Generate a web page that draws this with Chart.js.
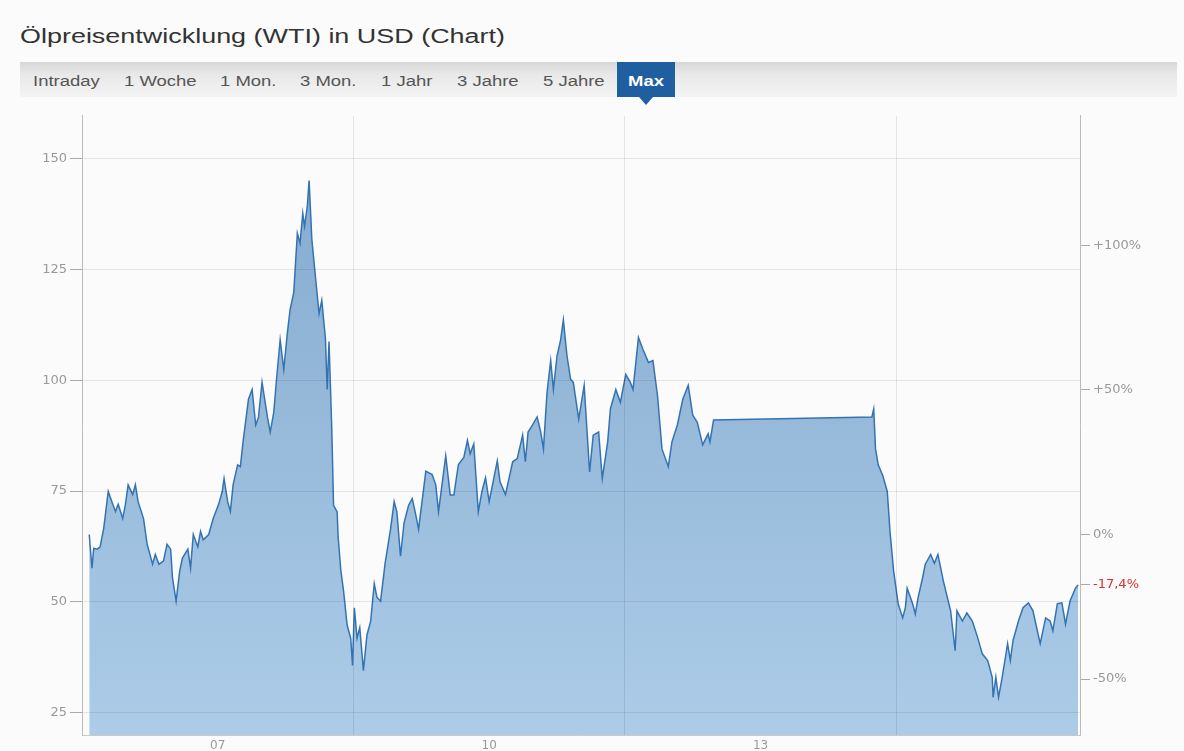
<!DOCTYPE html>
<html lang="de">
<head>
<meta charset="utf-8">
<title>Ölpreisentwicklung (WTI) in USD</title>
<script src="https://cdn.jsdelivr.net/npm/chart.js@4.4.1/dist/chart.umd.min.js"></script>
<style>
  html, body { margin: 0; padding: 0; background: #fbfbfb; }
  body { width: 1184px; height: 751px; position: relative; overflow: hidden; font-family: "Liberation Sans", Arial, sans-serif; }
  .title { position: absolute; left: 20px; top: 26px; margin: 0; font-size: 20px; line-height: 20px; font-weight: normal; color: #333; white-space: nowrap; transform: scaleX(1.347); transform-origin: left top; }
  .tabs { position: absolute; left: 20px; top: 62px; width: 1157px; height: 35px; background: linear-gradient(to bottom, #d7d7d7 0%, #e8e8e8 35%, #f4f4f4 100%); }
  .tab { position: absolute; top: 12px; font-size: 14px; line-height: 14px; color: #555; white-space: nowrap; transform: scaleX(1.32); transform-origin: left top; }
  .active { position: absolute; left: 597px; top: 0; width: 58px; height: 35px; background: #1f5fa0; }
  .active span { position: absolute; left: 11px; top: 12px; font-size: 14px; line-height: 14px; font-weight: bold; color: #fff; transform: scaleX(1.32); transform-origin: left top; }
  .active::after { content: ""; position: absolute; left: 22px; top: 35px; border-left: 7px solid transparent; border-right: 7px solid transparent; border-top: 8px solid #1f5fa0; }
  #wrap { position: absolute; left: 0; top: 105px; width: 1184px; height: 646px; }
</style>
</head>
<body>
<h1 class="title">Ölpreisentwicklung (WTI) in USD (Chart)</h1>
<div class="tabs">
  <span class="tab" style="left:13px">Intraday</span>
  <span class="tab" style="left:104px">1 Woche</span>
  <span class="tab" style="left:200px">1 Mon.</span>
  <span class="tab" style="left:280px">3 Mon.</span>
  <span class="tab" style="left:361px">1 Jahr</span>
  <span class="tab" style="left:437px">3 Jahre</span>
  <span class="tab" style="left:523px">5 Jahre</span>
  <div class="active"><span>Max</span></div>
</div>
<div id="wrap"><canvas id="chart"></canvas></div>
<script>
// WTI price (decimal years)
const years = [
  2006.08, 2006.11, 2006.13, 2006.17, 2006.20, 2006.24, 2006.29, 2006.34, 2006.37, 2006.40,
  2006.45, 2006.48, 2006.51, 2006.56, 2006.59, 2006.62, 2006.68, 2006.72, 2006.78, 2006.81,
  2006.85, 2006.90, 2006.94, 2006.98, 2007.00, 2007.04, 2007.08, 2007.11, 2007.17, 2007.20,
  2007.23, 2007.28, 2007.31, 2007.34, 2007.40, 2007.45, 2007.51, 2007.55, 2007.57, 2007.61,
  2007.64, 2007.67, 2007.72, 2007.75, 2007.78, 2007.84, 2007.88, 2007.92, 2007.95, 2007.99,
  2008.05, 2008.08, 2008.12, 2008.15, 2008.19, 2008.23, 2008.27, 2008.30, 2008.34, 2008.38,
  2008.41, 2008.44, 2008.46, 2008.49, 2008.51,
  2008.54, 2008.58, 2008.62, 2008.65, 2008.69, 2008.71, 2008.73, 2008.76, 2008.78, 2008.82,
  2008.83, 2008.86, 2008.89, 2008.93, 2008.97, 2008.99, 2009.01, 2009.04, 2009.07, 2009.11,
  2009.15, 2009.19, 2009.23, 2009.26, 2009.30, 2009.35, 2009.41, 2009.45, 2009.48, 2009.52,
  2009.56, 2009.61, 2009.65, 2009.69, 2009.72, 2009.80, 2009.87, 2009.91, 2009.94, 2010.02,
  2010.07, 2010.11, 2010.16, 2010.22, 2010.26, 2010.29, 2010.33, 2010.38, 2010.42, 2010.46,
  2010.50, 2010.59, 2010.62,
  2010.68, 2010.76, 2010.81, 2010.87, 2010.90, 2010.93, 2010.98, 2011.03, 2011.07, 2011.10,
  2011.14, 2011.18, 2011.21, 2011.25, 2011.29, 2011.32, 2011.36, 2011.40, 2011.43, 2011.49,
  2011.55, 2011.61, 2011.65, 2011.71, 2011.75, 2011.81, 2011.84, 2011.90, 2011.95, 2012.01,
  2012.06, 2012.09, 2012.15, 2012.20, 2012.26, 2012.31, 2012.36, 2012.41, 2012.48, 2012.52,
  2012.58, 2012.64, 2012.70, 2012.75, 2012.80, 2012.86, 2012.92, 2012.94, 2012.98,
  2014.73, 2014.75, 2014.77, 2014.80, 2014.85, 2014.90, 2014.93, 2014.97, 2015.02, 2015.07,
  2015.10, 2015.12, 2015.18, 2015.21, 2015.24, 2015.29, 2015.32, 2015.38, 2015.42, 2015.46,
  2015.52, 2015.60, 2015.65, 2015.67, 2015.73, 2015.78, 2015.84, 2015.90, 2015.95, 2016.01,
  2016.06, 2016.07, 2016.10, 2016.13, 2016.17, 2016.23, 2016.26, 2016.29, 2016.35, 2016.40,
  2016.46, 2016.51, 2016.59, 2016.65, 2016.70, 2016.73, 2016.78, 2016.83, 2016.87, 2016.92,
  2016.98, 2017.01
];
const prices = [
  65.2, 57.6, 62.1, 61.9, 62.4, 66.6, 74.9, 72.0, 70.4, 72.0,
  68.8, 72.0, 76.4, 74.2, 76.4, 72.6, 68.8, 63.0, 58.5, 60.7,
  58.5, 59.2, 63.0, 61.9, 55.4, 50.2, 57.0, 59.9, 61.9, 57.6,
  65.2, 62.4, 65.9, 64.0, 65.2, 68.8, 72.0, 74.9, 77.8, 72.6,
  70.4, 76.4, 80.9, 80.5, 86.1, 95.7, 97.9, 89.9, 91.6, 99.5,
  91.6, 88.3, 92.8, 100.2, 109.1, 102.4, 110.7, 115.9, 119.7, 133.1,
  130.9, 137.6, 134.7, 139.2, 145.0,
  131.8, 123.3, 115.0, 118.0, 109.5, 97.9, 108.7, 89.5, 71.8, 70.3,
  64.9, 57.2, 52.6, 44.8, 41.8, 35.7, 48.7, 41.8, 44.2, 34.5,
  42.6, 45.6, 54.1, 51.0, 50.2, 58.7, 66.4, 72.6, 70.3, 60.3,
  67.9, 71.8, 73.3, 69.5, 66.4, 79.5, 78.7, 76.4, 70.3, 82.9,
  74.1, 74.1, 81.0, 82.6, 86.4, 83.4, 85.6, 70.3, 74.9, 78.0,
  72.6, 81.8, 77.1,
  74.2, 81.6, 82.3, 87.6, 81.6, 88.3, 89.9, 91.7, 88.3, 84.5,
  97.3, 104.4, 97.9, 105.5, 109.1, 113.6, 105.5, 100.2, 99.5, 91.2,
  98.8, 79.3, 87.6, 88.3, 77.8, 86.1, 93.5, 97.9, 95.0, 101.3,
  99.5, 97.9, 109.6, 106.9, 104.0, 104.4, 96.6, 84.5, 80.5, 86.1,
  89.9, 95.7, 98.8, 92.1, 90.5, 85.4, 87.9, 86.1, 91.0,
  91.7, 93.5, 84.5, 80.9, 78.5, 74.9, 65.9, 57.0, 49.6, 46.4,
  48.7, 53.1, 49.6, 47.3, 50.9, 55.4, 58.5, 60.7, 58.7, 60.7,
  54.7, 48.0, 39.0, 48.0, 45.7, 47.5, 45.7, 41.9, 38.3, 36.8,
  33.0, 28.5, 33.0, 28.5, 33.0, 40.6, 36.8, 41.3, 45.7, 48.7,
  49.8, 48.0, 40.6, 46.4, 45.7, 43.5, 49.6, 49.8, 45.0, 50.2,
  53.1, 53.85
];

const priceTicks = [25, 50, 75, 100, 125, 150];
const pctTicks = [-50, 0, 50, 100];
const gridYears = [2009, 2012, 2015];
const yearLabels = ['07', '10', '13'];

const yMin = 20;
const yMax = 159.6;
const base = prices[0];
const lastPct = (prices[prices.length - 1] / base - 1) * 100;
const toPct = v => (v / base - 1) * 100;
// the year labels sit in the middle of their year
const labelYears = yearLabels.map(s => 2000 + Number(s) + 0.5);

Chart.defaults.font.family = '"DejaVu Sans", Verdana, sans-serif';

new Chart(document.getElementById('chart'), {
  type: 'line',
  data: {
    datasets: [{
      data: years.map((x, i) => ({ x: x, y: prices[i] })),
      borderColor: '#3473b2',
      borderWidth: 1.5,
      pointRadius: 0,
      tension: 0,
      fill: 'start',
      backgroundColor: (ctx) => {
        const area = ctx.chart.chartArea;
        if (!area) return 'rgb(160,195,225)';
        const g = ctx.chart.ctx.createLinearGradient(0, area.top, 0, area.bottom);
        g.addColorStop(0, 'rgb(130,168,205)');
        g.addColorStop(1, 'rgb(172,204,232)');
        return g;
      }
    }]
  },
  options: {
    responsive: true,
    maintainAspectRatio: false,
    animation: false,
    layout: { padding: { top: 7 } },
    plugins: { legend: { display: false }, tooltip: { enabled: false } },
    scales: {
      x: {
        type: 'linear',
        min: 2006,
        max: 2017.03,
        afterBuildTicks: (s) => {
          s.ticks = gridYears.concat(labelYears).sort((a, b) => a - b).map(v => ({ value: v }));
        },
        afterFit: (s) => { s.height = 16; },
        grid: {
          z: 1,
          drawTicks: false,
          color: (c) => (c.tick && Number.isInteger(c.tick.value)) ? 'rgba(0,0,0,0.09)' : 'rgba(0,0,0,0)'
        },
        border: { z: 1, color: '#c9c9c9' },
        ticks: {
          autoSkip: false,
          maxRotation: 0,
          padding: 4,
          color: '#999',
          font: { size: 12 },
          callback: (v) => Number.isInteger(v) ? '' : yearLabels[labelYears.indexOf(v)]
        }
      },
      y: {
        position: 'left',
        min: yMin,
        max: yMax,
        afterBuildTicks: (s) => { s.ticks = priceTicks.map(v => ({ value: v })); },
        afterFit: (s) => { s.width = 82; },
        grid: { z: 1, color: 'rgba(0,0,0,0.09)', tickColor: '#aaa', tickLength: 12 },
        border: { z: 1, color: '#bbb' },
        ticks: { padding: 3, color: '#999', font: { size: 13 } }
      },
      y2: {
        position: 'right',
        min: toPct(yMin),
        max: toPct(yMax),
        afterBuildTicks: (s) => { s.ticks = pctTicks.concat([lastPct]).map(v => ({ value: v })); },
        afterFit: (s) => { s.width = 104; },
        grid: { drawOnChartArea: false, tickColor: '#aaa', tickLength: 10 },
        border: { color: '#bbb' },
        ticks: {
          autoSkip: false,
          padding: 3,
          font: { size: 13 },
          color: (c) => (c.tick && c.tick.value === lastPct) ? '#d8302a' : '#999',
          callback: (v) => {
            if (v === lastPct) return v.toFixed(1).replace('.', ',') + '%';
            return (v > 0 ? '+' : '') + v + '%';
          }
        }
      }
    }
  }
});
</script>
</body>
</html>
